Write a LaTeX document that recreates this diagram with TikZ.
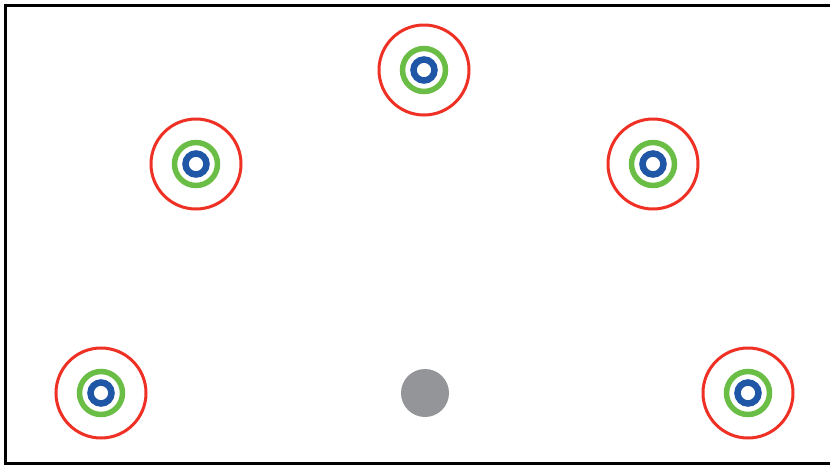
\documentclass[tikz,border=0pt]{standalone}
\definecolor{ringred}{HTML}{EE3124}
\definecolor{ringgreen}{HTML}{6ABD45}
\definecolor{ringblue}{HTML}{1F56A5}
\definecolor{hubgray}{HTML}{939598}
\tikzset{
  redring/.style={draw=ringred, line width=3pt, circle, minimum size=90pt, inner sep=0pt},
  greenring/.style={draw=ringgreen, line width=5.5pt, circle, minimum size=43pt, inner sep=0pt},
  bluering/.style={draw=ringblue, line width=6.5pt, circle, minimum size=21pt, inner sep=0pt},
  hub/.style={fill=hubgray, circle, minimum size=48pt, inner sep=0pt},
}
\newcommand{\target}[2]{%
  \node[redring] (#1r) at #2 {};
  \node[greenring] (#1g) at #2 {};
  \node[bluering] (#1b) at #2 {};
}
\begin{document}
\begin{tikzpicture}[x=1pt,y=-1pt]
\useasboundingbox (0,0) rectangle (830,467);
\draw[line width=3pt] (5.5,5.5) rectangle (840,463.5);
\target{top}{(424,70)}
\target{lm}{(196,164)}
\target{rm}{(653,164)}
\target{bl}{(101,393)}
\target{br}{(748,393)}
\node[hub] (center) at (425,393) {};
\end{tikzpicture}
\end{document}
